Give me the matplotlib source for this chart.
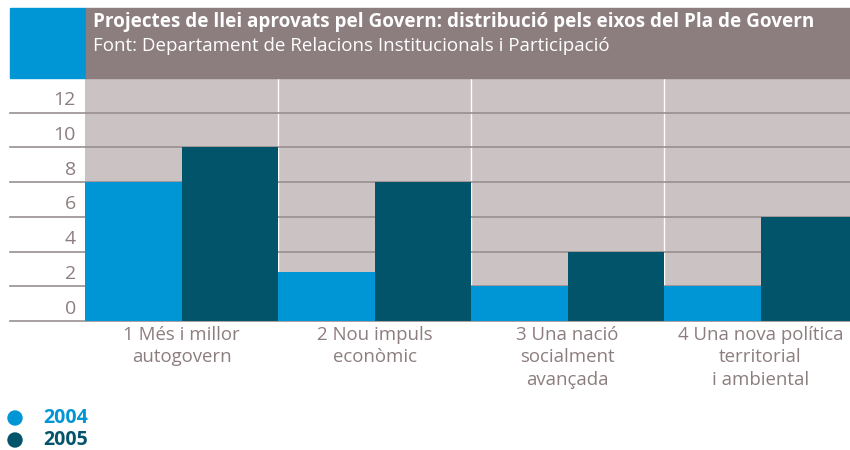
"""
Projectes de llei aprovats pel Govern, per eixos del Pla de Govern
Saves out.png (850x450)
"""

import matplotlib.pyplot as plt
from matplotlib.patches import Rectangle, Ellipse
import numpy as np

categories = ['1 Més i millor\nautogovern', '2 Nou impuls\neconòmic',
              '3 Una nació\nsocialment\navançada', '4 Una nova política\nterritorial\ni ambiental']
years = ['2004', '2005']
values_2004 = [8, 2.8, 2, 2]
values_2005 = [10, 8, 4, 6]
yticks = [0, 2, 4, 6, 8, 10, 12]

BLUE = '#0096d6'
TEAL = '#02546b'
BG = '#cac2c3'
BAND = '#8c7d7f'
GRID = '#9a8f90'
TXT = '#8c7d7f'

plt.rcParams['font.family'] = ['Open Sans', 'DejaVu Sans']

fig = plt.figure(figsize=(8.5, 4.5), dpi=100)
ax = fig.add_axes([85/850, 1 - 321/450, 765/850, (321 - 78)/450])
ax.set_facecolor(BG)

# header band
fig.patches.append(Rectangle((10/850, 1 - 78/450), 76/850, 70/450,
                             transform=fig.transFigure, color=BLUE, zorder=0))
fig.patches.append(Rectangle((86/850, 1 - 78/450), 764/850, 70/450,
                             transform=fig.transFigure, color=BAND, zorder=0))
fig.text(93/850, 1 - 22/450, 'Projectes de llei aprovats pel Govern: distribució pels eixos del Pla de Govern',
         color='white', fontsize=13.6, fontweight='bold', va='center', ha='left')
fig.text(93/850, 1 - 46/450, 'Font: Departament de Relacions Institucionals i Participació',
         color='white', fontsize=13.5, va='center', ha='left')

x = np.arange(len(categories))
w = 0.5
ax.bar(x - w/2, values_2004, w, color=BLUE, zorder=3)
ax.bar(x + w/2, values_2005, w, color=TEAL, zorder=3)

for b in x[:-1] + 0.5:
    ax.axvline(b, color='white', lw=1, zorder=1)

tr = ax.get_yaxis_transform()
for v in yticks:
    ax.plot([-75/765, 1], [v, v], color=GRID, lw=1.2, transform=tr, clip_on=False, zorder=2)
    ax.text(-9/765, v + 0.2, str(v), transform=tr, ha='right', va='bottom',
            fontsize=14, color=TXT)

ax.set_xlim(-0.5, 3.5 - 7/193)
ax.set_ylim(0, 14)
ax.set_xticks([]); ax.set_yticks([])
for s in ax.spines.values():
    s.set_visible(False)

for i, c in enumerate(categories):
    ax.text(i, -0.3, c, ha='center', va='top', fontsize=13.4, color=TXT,
            linespacing=1.3)

# legend
for yy, lab, col in [(418, years[0], BLUE), (440, years[1], TEAL)]:
    fig.patches.append(Ellipse((15/850, 1 - yy/450), 14/850, 14/450,
                               transform=fig.transFigure, color=col))
    fig.text(43/850, 1 - yy/450, lab, color=col, fontsize=14, fontweight='bold',
             va='center', ha='left')

fig.savefig('out.png', dpi=100)
